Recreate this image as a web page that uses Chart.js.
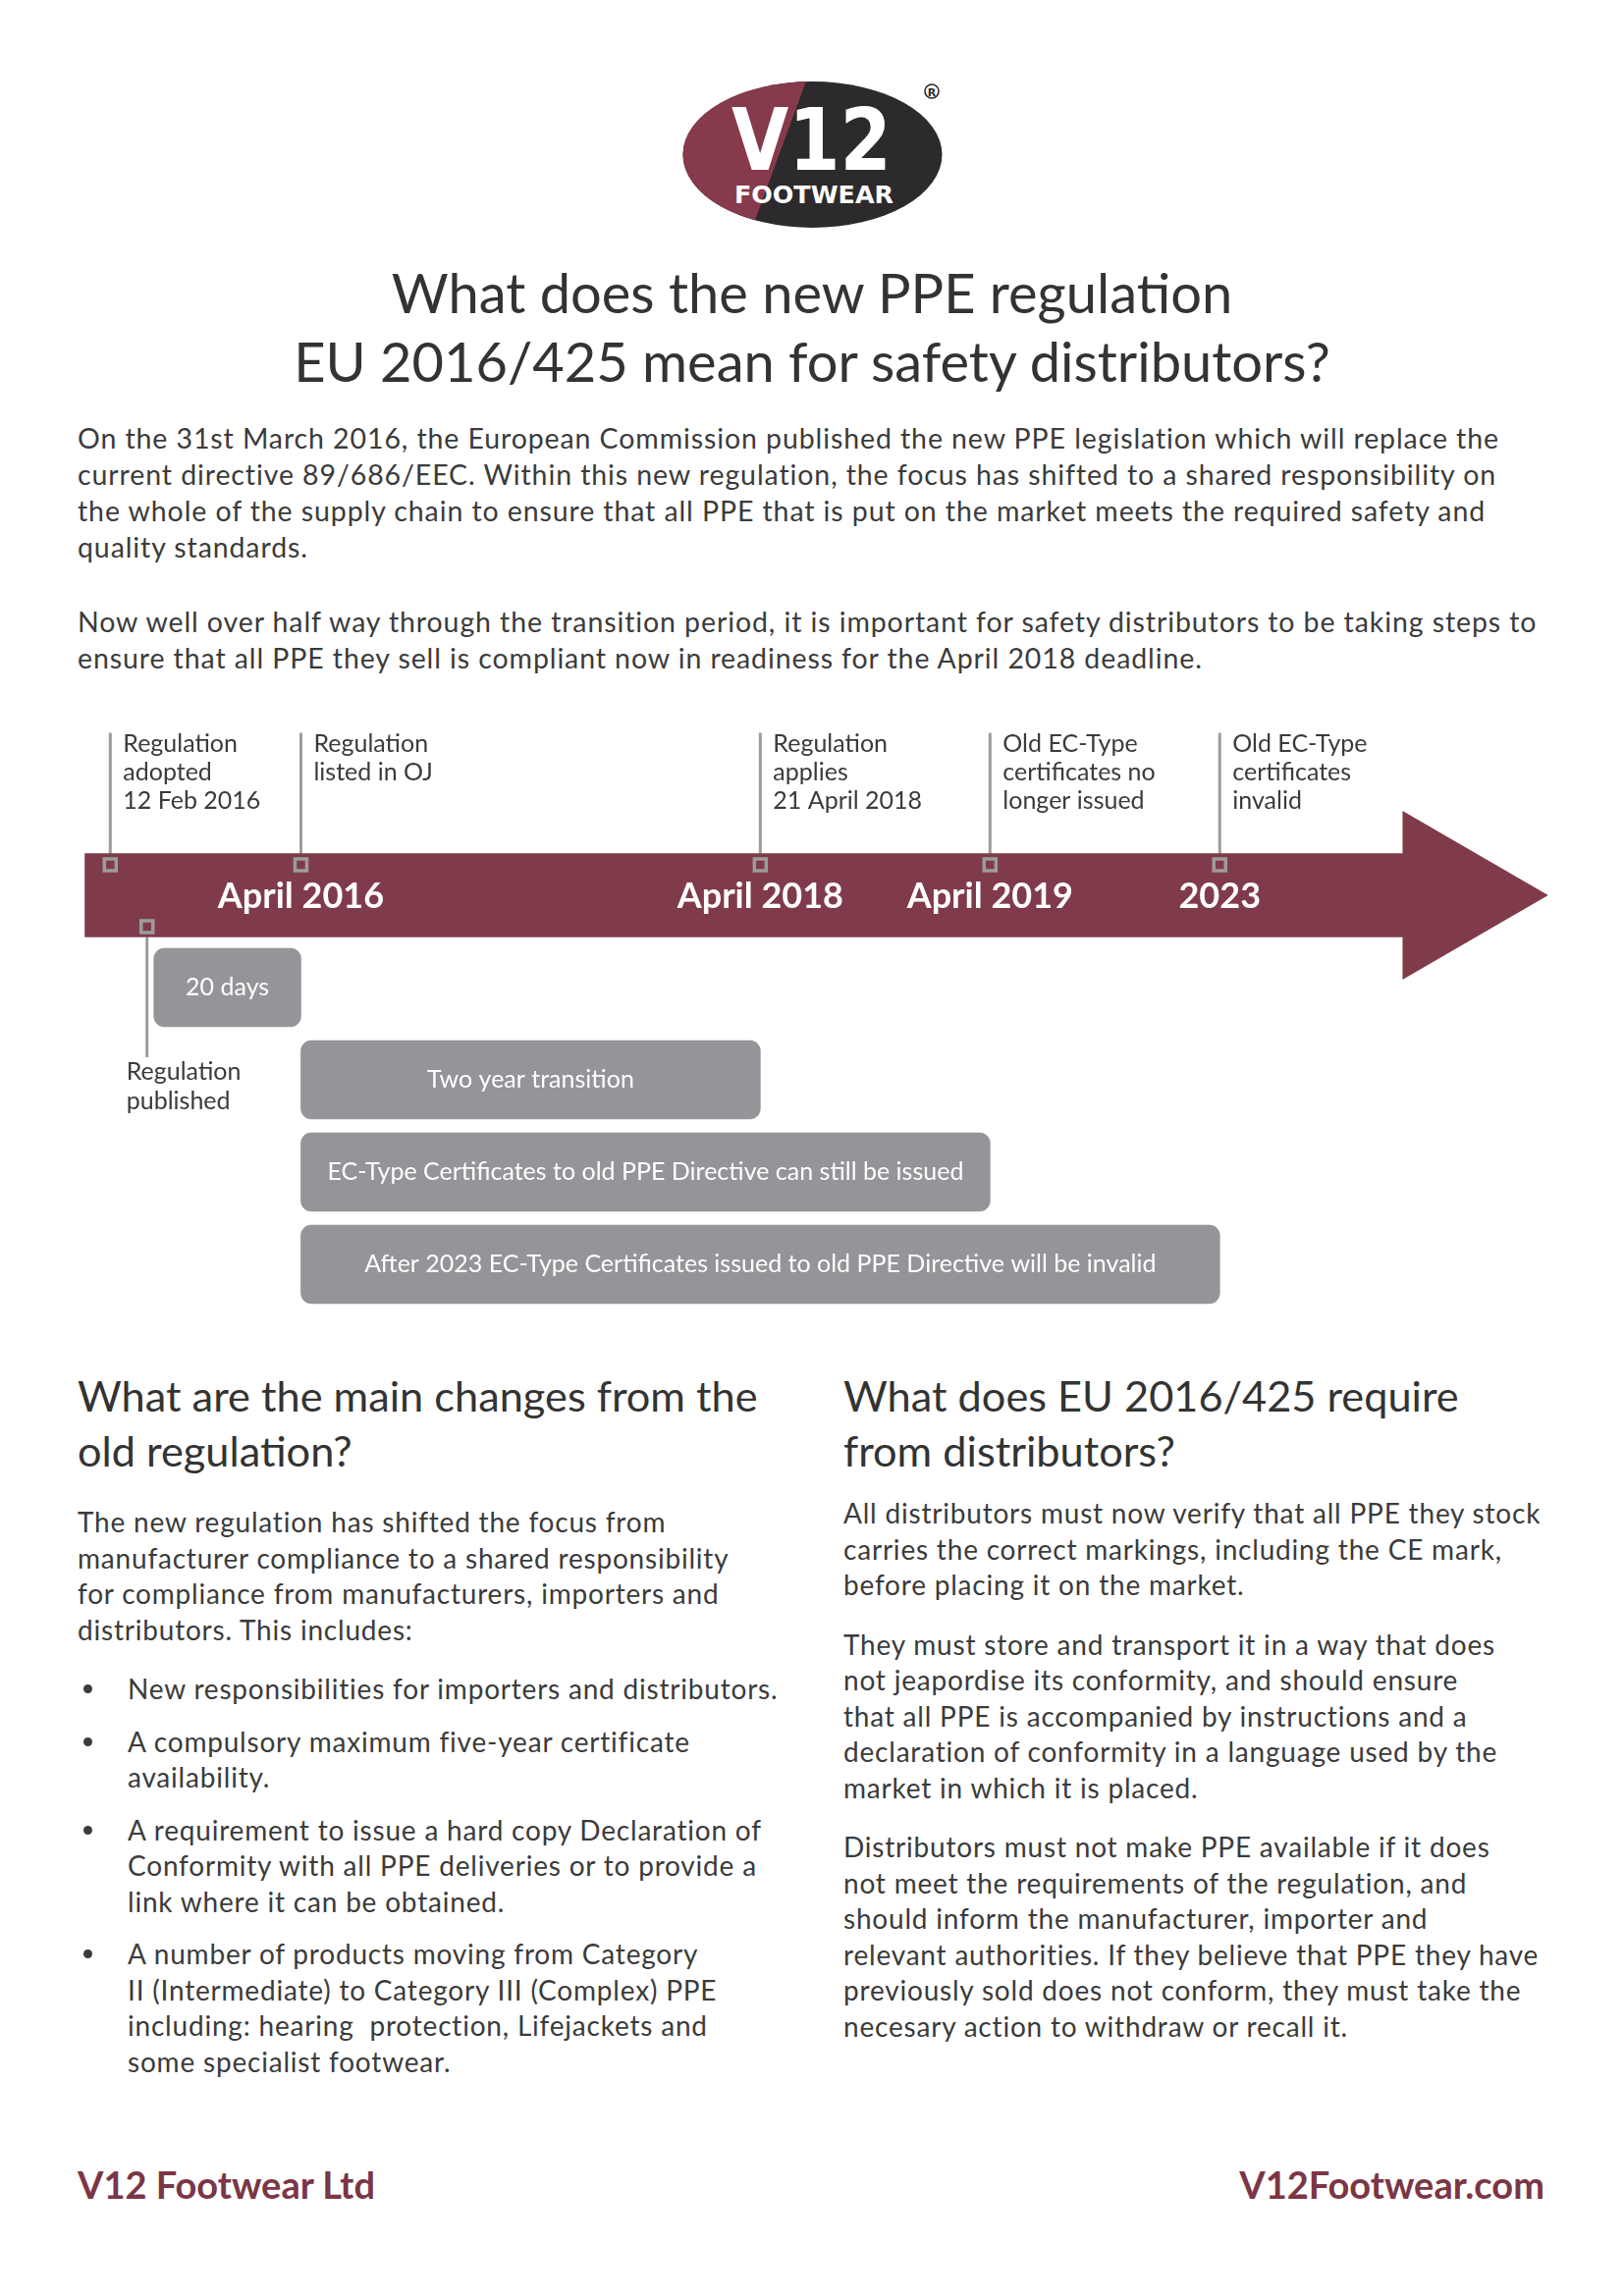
<!DOCTYPE html>
<html>
<head>
<meta charset="utf-8">
<title>PPE regulation EU 2016/425</title>
<script src="https://cdn.jsdelivr.net/npm/chart.js@4.4.1/dist/chart.umd.min.js"></script>
<style>
  body { margin:0; width:1654px; height:2339px; position:relative; background:#fff;
         font-family: Lato, "Open Sans", sans-serif; color:#3b3b3b; }
  .abs { position:absolute; }
  #title { top:263px; left:0; width:1654px; text-align:center; font-size:56px; line-height:70px; color:#333; }
  .para { left:79px; font-size:28.5px; letter-spacing:0.9px; line-height:37px; white-space:nowrap; }
  .head { font-size:43.3px; line-height:56px; white-space:nowrap; color:#333; }
  .body { font-size:28px; letter-spacing:0.8px; line-height:36.5px; white-space:nowrap; }
  .body p { margin:0 0 24px 0; }
  ul { margin:0; padding:0; list-style:none; }
  li { position:relative; padding-left:51px; margin-top:17px; }
  li:before { content:""; position:absolute; left:6px; top:14px; width:9px; height:9px; border-radius:50%; background:#3b3b3b; }
  .foot { top:2203px; font-size:38px; font-weight:bold; color:#7b3646; line-height:44px; }
  #timeline { top:724px; left:0; width:1654px; height:611px; }
  #timeline canvas { display:block; }
</style>
</head>
<body>

<svg class="abs" style="left:680px;top:60px" width="300" height="190" viewBox="680 60 300 190">
  <defs>
    <clipPath id="oval"><ellipse cx="827.5" cy="157.5" rx="132" ry="74.5"/></clipPath>
  </defs>
  <ellipse cx="827.5" cy="157.5" rx="132" ry="74.5" fill="#2c2a2c"/>
  <polygon points="690,80 822,80 765,235 690,235" fill="#873a4b" clip-path="url(#oval)"/>
  <text x="745" y="173" textLength="163" lengthAdjust="spacingAndGlyphs" font-family="DejaVu Sans" font-weight="bold" font-size="88" fill="#fff">V12</text>
  <text x="748" y="207" textLength="162" lengthAdjust="spacingAndGlyphs" font-family="DejaVu Sans" font-weight="bold" font-size="24" fill="#fff">FOOTWEAR</text>
  <circle cx="949" cy="93" r="7" fill="none" stroke="#2c2a2c" stroke-width="1.6"/>
  <text x="949" y="97.5" text-anchor="middle" font-family="DejaVu Sans" font-weight="bold" font-size="11" fill="#2c2a2c">R</text>
</svg>

<div id="title" class="abs">What does the new PPE regulation<br>EU 2016/425 mean for safety distributors?</div>

<div class="abs para" style="top:428px">On the 31st March 2016, the European Commission published the new PPE legislation which will replace the<br>current directive 89/686/EEC. Within this new regulation, the focus has shifted to a shared responsibility on<br>the whole of the supply chain to ensure that all PPE that is put on the market meets the required safety and<br>quality standards.</div>

<div class="abs para" style="top:615px">Now well over half way through the transition period, it is important for safety distributors to be taking steps to<br>ensure that all PPE they sell is compliant now in readiness for the April 2018 deadline.</div>

<div id="timeline" class="abs"><canvas id="timelineChart" width="1654" height="611"></canvas></div>

<div class="abs head" style="left:79px;top:1393px">What are the main changes from the<br>old regulation?</div>
<div class="abs head" style="left:859px;top:1393px">What does EU 2016/425 require<br>from distributors?</div>

<div class="abs body" style="left:79px;top:1532px">
  <p>The new regulation has shifted the focus from<br>manufacturer compliance to a shared responsibility<br>for compliance from manufacturers, importers and<br>distributors. This includes:</p>
  <ul>
    <li style="margin-top:0">New responsibilities for importers and distributors.</li>
    <li>A compulsory maximum five-year certificate<br>availability.</li>
    <li>A requirement to issue a hard copy Declaration of<br>Conformity with all PPE deliveries or to provide a<br>link where it can be obtained.</li>
    <li>A number of products moving from Category<br>II (Intermediate) to Category III (Complex) PPE<br>including: hearing&nbsp; protection, Lifejackets and<br>some specialist footwear.</li>
  </ul>
</div>

<div class="abs body" style="left:859px;top:1523px">
  <p>All distributors must now verify that all PPE they stock<br>carries the correct markings, including the CE mark,<br>before placing it on the market.</p>
  <p>They must store and transport it in a way that does<br>not jeapordise its conformity, and should ensure<br>that all PPE is accompanied by instructions and a<br>declaration of conformity in a language used by the<br>market in which it is placed.</p>
  <p>Distributors must not make PPE available if it does<br>not meet the requirements of the regulation, and<br>should inform the manufacturer, importer and<br>relevant authorities. If they believe that PPE they have<br>previously sold does not conform, they must take the<br>necesary action to withdraw or recall it.</p>
</div>

<div class="abs foot" style="left:79px">V12 Footwear Ltd</div>
<div class="abs foot" style="right:81px">V12Footwear.com</div>

<script>
// timeline positions are in "milestone steps": 0 = April 2016, 2 = April 2018, 3 = April 2019, 4 = 2023
var milestoneText = [
  ['Regulation', 'adopted', '12 Feb 2016'],
  ['Regulation', 'listed in OJ'],
  ['Regulation', 'applies', '21 April 2018'],
  ['Old EC-Type', 'certificates no', 'longer issued'],
  ['Old EC-Type', 'certificates', 'invalid']
];
var milestoneAt = [-0.83, 0, 2, 3, 4];

var publishedText = ['Regulation', 'published'];
var publishedAt = -0.67;

var yearLabels = ['April 2016', 'April 2018', 'April 2019', '2023'];
var yearAt = [0, 2, 3, 4];

var periodLabels = [
  '20 days',
  'Two year transition',
  'EC-Type Certificates to old PPE Directive can still be issued',
  'After 2023 EC-Type Certificates issued to old PPE Directive will be invalid'
];
var periodStart = [-0.64, 0, 0, 0];
var periodEnd = [0, 2, 3, 4];
var periodLane = [1, 2, 3, 4];

var arrowStart = -0.94;
var arrowBodyEnd = 4.8;
var arrowTip = 5.43;

var maroon = '#803b4a';
var barGrey = '#939598';
var lineGrey = '#9c9c9c';
var textDark = '#3b3b3b';
var labelFont = 'Lato, "Open Sans", sans-serif';

var arrowHead = {
  id: 'arrowHead',
  beforeDatasetsDraw: function(chart) {
    var ctx = chart.ctx, x = chart.scales.x, y = chart.scales.y;
    var yc = y.getPixelForValue(0);
    ctx.save();
    ctx.fillStyle = maroon;
    ctx.beginPath();
    ctx.moveTo(x.getPixelForValue(arrowBodyEnd) - 1, yc - 86);
    ctx.lineTo(x.getPixelForValue(arrowTip), yc);
    ctx.lineTo(x.getPixelForValue(arrowBodyEnd) - 1, yc + 86);
    ctx.closePath();
    ctx.fill();
    // leader lines
    ctx.strokeStyle = lineGrey;
    ctx.lineWidth = 3;
    var top = y.getPixelForValue(-1.76);
    milestoneAt.forEach(function(v) {
      var px = x.getPixelForValue(v);
      ctx.beginPath();
      ctx.moveTo(px, top);
      ctx.lineTo(px, y.getPixelForValue(-0.33) - 6);
      ctx.stroke();
    });
    var pp = x.getPixelForValue(publishedAt);
    ctx.beginPath();
    ctx.moveTo(pp, y.getPixelForValue(0.34) + 6);
    ctx.lineTo(pp, y.getPixelForValue(1.755));
    ctx.stroke();
    ctx.restore();
  },
  afterDatasetsDraw: function(chart) {
    var ctx = chart.ctx, x = chart.scales.x, y = chart.scales.y;
    ctx.save();
    // year labels on the arrow
    ctx.fillStyle = '#fff';
    ctx.font = 'bold 36px ' + labelFont;
    ctx.textAlign = 'center';
    ctx.textBaseline = 'middle';
    yearLabels.forEach(function(t, i) {
      ctx.fillText(t, x.getPixelForValue(yearAt[i]), y.getPixelForValue(0) + 1);
    });
    // period labels inside bars
    ctx.font = '25px ' + labelFont;
    periodLabels.forEach(function(t, i) {
      ctx.fillText(t, x.getPixelForValue((periodStart[i] + periodEnd[i]) / 2), y.getPixelForValue(periodLane[i]));
    });
    // milestone notes
    ctx.fillStyle = textDark;
    ctx.font = '25px ' + labelFont;
    ctx.textAlign = 'left';
    ctx.textBaseline = 'alphabetic';
    var top = y.getPixelForValue(-1.76);
    milestoneText.forEach(function(lines, i) {
      var px = x.getPixelForValue(milestoneAt[i]) + 13;
      lines.forEach(function(t, j) {
        ctx.fillText(t, px, top + 19 + j * 29);
      });
    });
    var pp = x.getPixelForValue(publishedAt) - 21;
    var pb = y.getPixelForValue(1.755) + 23;
    publishedText.forEach(function(t, j) {
      ctx.fillText(t, pp, pb + j * 30);
    });
    ctx.restore();
  }
};

var config = {
  type: 'bar',
  data: {
    datasets: [
      {
        type: 'scatter',
        data: milestoneAt.map(function(v) { return { x: v, y: -0.33 }; })
          .concat([{ x: publishedAt, y: 0.34 }]),
        pointStyle: 'rect',
        pointRadius: 8.5,
        borderWidth: 3.5,
        borderColor: lineGrey,
        backgroundColor: 'rgba(0,0,0,0)',
        order: 1
      },
      {
        data: periodLabels.map(function(t, i) { return { x: [periodStart[i], periodEnd[i]], y: periodLane[i] }; }),
        backgroundColor: barGrey,
        borderRadius: 11,
        borderSkipped: false,
        barThickness: 80,
        grouped: false,
        order: 2
      },
      {
        data: [{ x: [arrowStart, arrowBodyEnd], y: 0 }],
        backgroundColor: maroon,
        barThickness: 85,
        grouped: false,
        order: 3
      }
    ]
  },
  options: {
    indexAxis: 'y',
    responsive: false,
    animation: false,
    layout: { padding: 0, autoPadding: false },
    plugins: { legend: { display: false }, tooltip: { enabled: false } },
    scales: {
      x: { type: 'linear', min: -1.31, max: 5.76, display: false },
      y: { type: 'linear', min: -2, max: 4.5, reverse: true, offset: false, display: false }
    }
  },
  plugins: [arrowHead]
};

var timelineChart = new Chart(document.getElementById('timelineChart'), config);
</script>
</body>
</html>
